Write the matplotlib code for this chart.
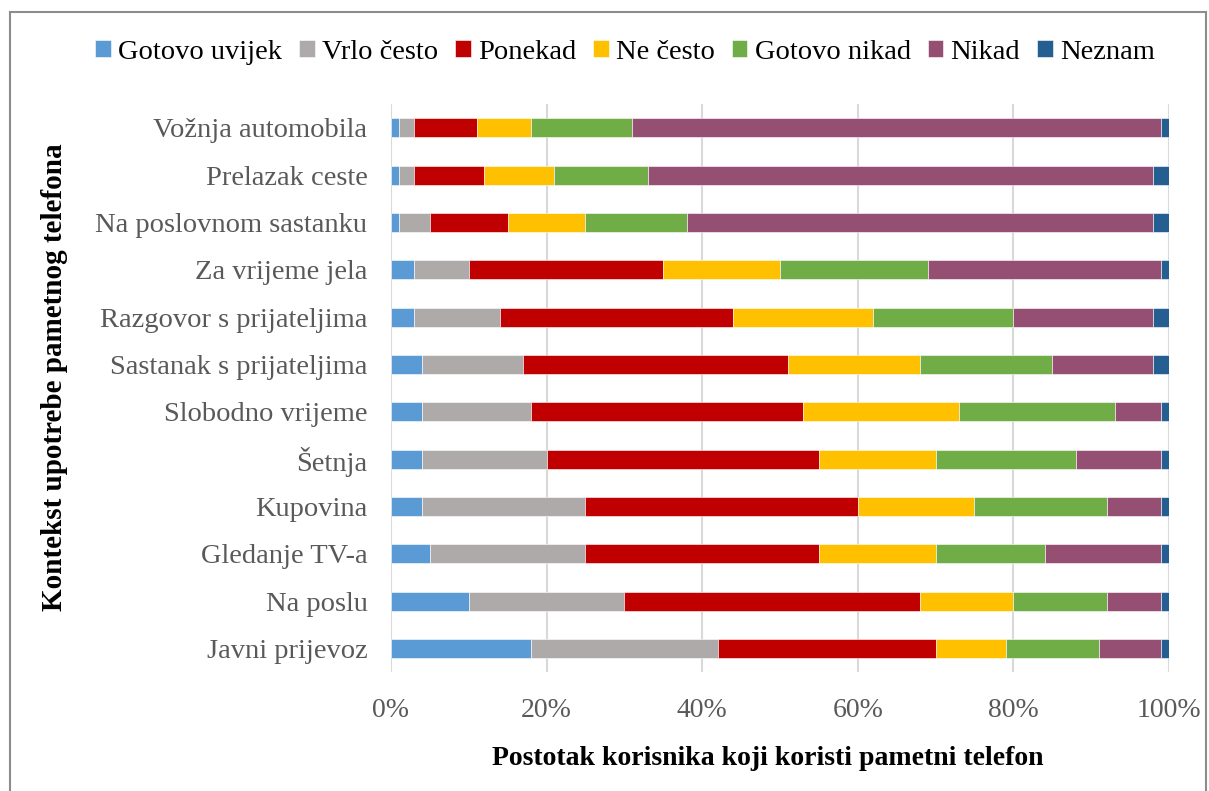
import numpy as np
import matplotlib
matplotlib.use("Agg")
import matplotlib.pyplot as plt
from matplotlib.lines import Line2D

plt.rcParams['font.family'] = ['Liberation Serif', 'DejaVu Serif']

# kategorije (odozgo prema dolje)
konteksti = ['Vožnja automobila', 'Prelazak ceste', 'Na poslovnom sastanku',
             'Za vrijeme jela', 'Razgovor s prijateljima', 'Sastanak s prijateljima',
             'Slobodno vrijeme', 'Šetnja', 'Kupovina', 'Gledanje TV-a',
             'Na poslu', 'Javni prijevoz']

serije = ['Gotovo uvijek', 'Vrlo često', 'Ponekad', 'Ne često',
          'Gotovo nikad', 'Nikad', 'Neznam']

gotovo_uvijek = [1, 1, 1, 3, 3, 4, 4, 4, 4, 5, 10, 18]
vrlo_cesto    = [2, 2, 4, 7, 11, 13, 14, 16, 21, 20, 20, 24]
ponekad       = [8, 9, 10, 25, 30, 34, 35, 35, 35, 30, 38, 28]
ne_cesto      = [7, 9, 10, 15, 18, 17, 20, 15, 15, 15, 12, 9]
gotovo_nikad  = [13, 12, 13, 19, 18, 17, 20, 18, 17, 14, 12, 12]
nikad         = [68, 65, 60, 30, 18, 13, 6, 11, 7, 15, 7, 8]
neznam        = [1, 2, 2, 1, 2, 2, 1, 1, 1, 1, 1, 1]

boje = ['#5B9BD5', '#AEAAAA', '#C00000', '#FFC000', '#70AD47', '#954F72', '#255E91']

x_ticks = [0, 20, 40, 60, 80, 100]
x_tick_labels = ['0%', '20%', '40%', '60%', '80%', '100%']

podaci = [gotovo_uvijek, vrlo_cesto, ponekad, ne_cesto, gotovo_nikad, nikad, neznam]

fig = plt.figure(figsize=(12.09, 7.91), dpi=100)
ax = fig.add_axes([0.3234, 0.1504, 0.6435, 0.718])

y = np.arange(len(konteksti))[::-1]
lijevo = np.zeros(len(konteksti))
for ime, vrijednosti, boja in zip(serije, podaci, boje):
    v = np.array(vrijednosti, dtype=float)
    ax.barh(y, v, left=lijevo, height=0.4, color=boja, label=ime,
            edgecolor='white', linewidth=0.4, zorder=3)
    lijevo += v

ax.set_xlim(0, 100)
ax.set_ylim(-0.5, len(konteksti) - 0.5)
ax.set_yticks(y)
ax.set_yticklabels(konteksti)
ax.set_xticks(x_ticks)
ax.set_xticklabels(x_tick_labels)
ax.tick_params(axis='both', length=0, colors='#595959')
ax.tick_params(axis='y', labelsize=20.5, pad=17)
ax.tick_params(axis='x', labelsize=20, pad=19)
ax.grid(axis='x', color='#D9D9D9', linewidth=1.5, zorder=0)
for s in ax.spines.values():
    s.set_visible(False)

ax.set_xlabel('Postotak korisnika koji koristi pametni telefon',
              fontsize=20, fontweight='bold', color='black')
ax.xaxis.set_label_coords(0.484, -0.131)
fig.text(55 / 1209, 0.523, 'Kontekst upotrebe pametnog telefona', rotation=90,
         fontsize=21, fontweight='bold', ha='center', va='center')

fig.legend(loc='center', bbox_to_anchor=(0.517, 0.934), ncol=7, frameon=False,
           fontsize=20.5, handlelength=0.55, handleheight=0.55, handletextpad=0.25,
           columnspacing=0.6)

# okvir grafikona
okvir = dict(color='#8C8C8C', linewidth=1.5, transform=fig.transFigure)
fig.add_artist(Line2D([10 / 1209, 10 / 1209], [0, 1 - 12 / 791], **okvir))
fig.add_artist(Line2D([10 / 1209, 1206 / 1209], [1 - 12 / 791, 1 - 12 / 791], **okvir))
fig.add_artist(Line2D([1206 / 1209, 1206 / 1209], [0, 1 - 12 / 791], **okvir))

fig.savefig('out.png', dpi=100)
